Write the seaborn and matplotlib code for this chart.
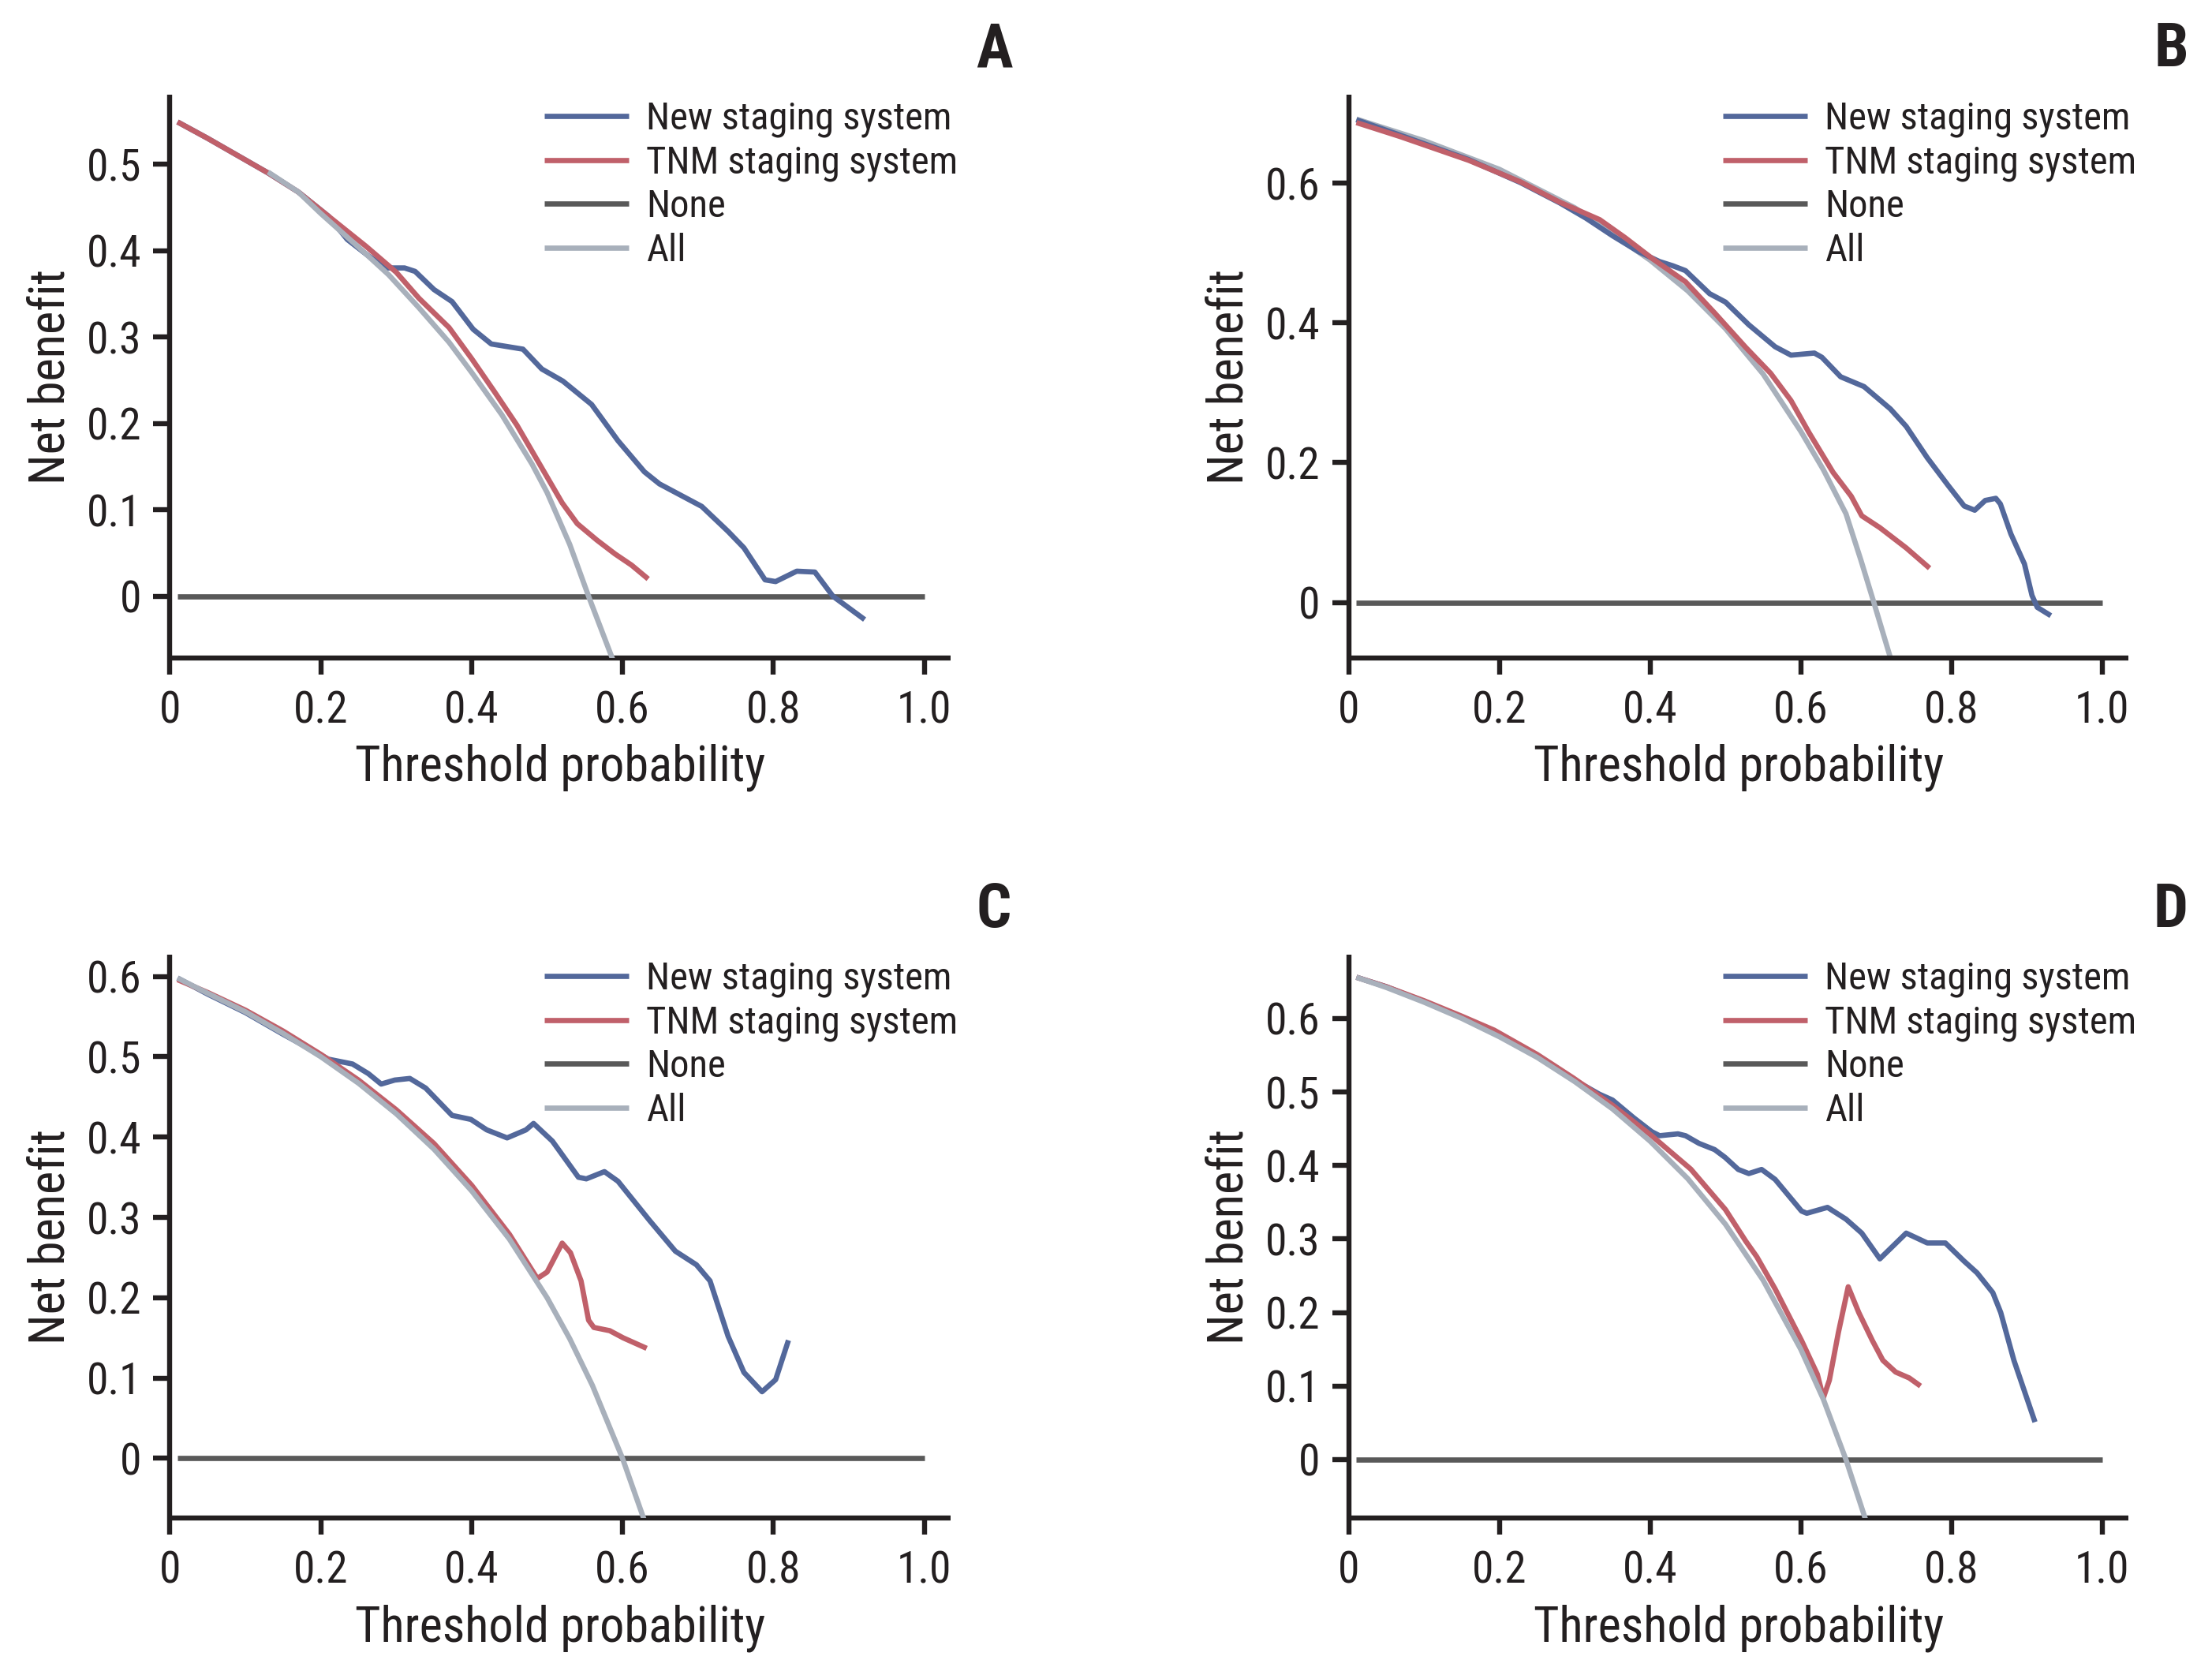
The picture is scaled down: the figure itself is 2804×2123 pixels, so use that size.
import numpy as np
import pandas as pd
import matplotlib
matplotlib.use("Agg")
import matplotlib.pyplot as plt
import seaborn as sns
from matplotlib.lines import Line2D

# ---------------- data ----------------
model_labels = ["New staging system", "TNM staging system", "None", "All"]
x_ticks = [0, 0.2, 0.4, 0.6, 0.8, 1.0]
x_tick_labels = ["0", "0.2", "0.4", "0.6", "0.8", "1.0"]
none_x = [0.01, 1.0]
none_y = [0.0, 0.0]

# Panel A
a_new_x = [0.01, 0.05, 0.10, 0.13, 0.17, 0.21, 0.235, 0.263, 0.287, 0.311, 0.325, 0.350, 0.374, 0.402,
           0.426, 0.468, 0.493, 0.521, 0.559, 0.594, 0.629, 0.649, 0.705, 0.740, 0.761, 0.789, 0.803,
           0.831, 0.855, 0.879, 0.921]
a_new_y = [0.549, 0.530, 0.505, 0.490, 0.468, 0.440, 0.413, 0.394, 0.380, 0.380, 0.376, 0.355, 0.341, 0.309,
           0.292, 0.286, 0.263, 0.249, 0.222, 0.180, 0.144, 0.130, 0.104, 0.075, 0.056, 0.019, 0.017,
           0.029, 0.028, 0.000, -0.027]
a_tnm_x = [0.01, 0.05, 0.10, 0.13, 0.17, 0.21, 0.26, 0.30, 0.33, 0.37, 0.40, 0.43, 0.46, 0.48, 0.50, 0.52,
           0.54, 0.566, 0.590, 0.612, 0.634]
a_tnm_y = [0.549, 0.530, 0.505, 0.490, 0.468, 0.440, 0.405, 0.375, 0.345, 0.311, 0.275, 0.237, 0.198, 0.168,
           0.138, 0.108, 0.084, 0.065, 0.049, 0.036, 0.020]
a_all_x = [0.13, 0.17, 0.20, 0.25, 0.29, 0.33, 0.37, 0.40, 0.44, 0.48, 0.50, 0.53, 0.555, 0.59]
a_all_y = [0.491, 0.468, 0.443, 0.404, 0.372, 0.334, 0.294, 0.259, 0.210, 0.153, 0.120, 0.060, 0.000, -0.080]
a_y_ticks = [0, 0.1, 0.2, 0.3, 0.4, 0.5]
a_y_tick_labels = ["0", "0.1", "0.2", "0.3", "0.4", "0.5"]
a_ylim = (-0.0718, 0.5806)

# Panel B
b_new_x = [0.01, 0.068, 0.159, 0.228, 0.280, 0.315, 0.35, 0.385, 0.4125, 0.43, 0.447, 0.479, 0.50, 0.531,
           0.566, 0.587, 0.618, 0.628, 0.653, 0.684, 0.719, 0.740, 0.768, 0.796, 0.817, 0.831, 0.845,
           0.859, 0.865, 0.879, 0.897, 0.907, 0.914, 0.932]
b_new_y = [0.691, 0.669, 0.634, 0.601, 0.572, 0.550, 0.525, 0.502, 0.488, 0.482, 0.475, 0.442, 0.430, 0.3975,
           0.366, 0.354, 0.357, 0.351, 0.323, 0.309, 0.277, 0.252, 0.207, 0.167, 0.138, 0.132, 0.146,
           0.149, 0.141, 0.098, 0.055, 0.010, -0.007, -0.019]
b_tnm_x = [0.01, 0.068, 0.159, 0.228, 0.280, 0.333, 0.367, 0.402, 0.447, 0.486, 0.527, 0.56, 0.587, 0.611,
           0.643, 0.667, 0.681, 0.705, 0.740, 0.771]
b_tnm_y = [0.687, 0.667, 0.633, 0.602, 0.573, 0.548, 0.522, 0.493, 0.459, 0.414, 0.365, 0.328, 0.289, 0.243,
           0.186, 0.152, 0.124, 0.107, 0.078, 0.049]
b_all_x = [0.01, 0.10, 0.20, 0.30, 0.40, 0.45, 0.50, 0.55, 0.60, 0.63, 0.66, 0.68, 0.697, 0.722]
b_all_y = [0.692, 0.661, 0.620, 0.565, 0.490, 0.446, 0.392, 0.327, 0.245, 0.190, 0.127, 0.060, 0.000, -0.090]
b_y_ticks = [0, 0.2, 0.4, 0.6]
b_y_tick_labels = ["0", "0.2", "0.4", "0.6"]
b_ylim = (-0.080, 0.727)

# Panel C
c_new_x = [0.01, 0.05, 0.10, 0.15, 0.21, 0.242, 0.263, 0.28, 0.298, 0.318, 0.339, 0.374, 0.399, 0.42, 0.447,
           0.472, 0.482, 0.507, 0.517, 0.5415, 0.552, 0.576, 0.594, 0.636, 0.670, 0.698, 0.716, 0.740,
           0.761, 0.785, 0.803, 0.820]
c_new_y = [0.598, 0.578, 0.555, 0.528, 0.497, 0.491, 0.479, 0.466, 0.471, 0.473, 0.461, 0.427, 0.422, 0.409,
           0.399, 0.409, 0.417, 0.395, 0.382, 0.350, 0.348, 0.357, 0.345, 0.296, 0.258, 0.241, 0.221,
           0.152, 0.107, 0.083, 0.098, 0.147]
c_tnm_x = [0.01, 0.05, 0.10, 0.15, 0.20, 0.25, 0.30, 0.35, 0.40, 0.45, 0.487, 0.50, 0.51, 0.52, 0.531,
           0.545, 0.555, 0.562, 0.583, 0.601, 0.632]
c_tnm_y = [0.596, 0.580, 0.558, 0.532, 0.503, 0.471, 0.434, 0.392, 0.340, 0.279, 0.224, 0.232, 0.250, 0.268,
           0.256, 0.221, 0.172, 0.163, 0.159, 0.150, 0.137]
c_all_x = [0.01, 0.05, 0.10, 0.15, 0.20, 0.25, 0.30, 0.35, 0.40, 0.45, 0.50, 0.53, 0.56, 0.60, 0.63]
c_all_y = [0.598, 0.579, 0.556, 0.529, 0.500, 0.467, 0.429, 0.385, 0.333, 0.273, 0.200, 0.149, 0.091, 0.000,
           -0.080]
c_y_ticks = [0, 0.1, 0.2, 0.3, 0.4, 0.5, 0.6]
c_y_tick_labels = ["0", "0.1", "0.2", "0.3", "0.4", "0.5", "0.6"]
c_ylim = (-0.0747, 0.627)

# Panel D
d_new_x = [0.01, 0.05, 0.10, 0.15, 0.193, 0.25, 0.298, 0.3325, 0.35, 0.378, 0.402, 0.4125, 0.437, 0.447,
           0.465, 0.4856, 0.4995, 0.517, 0.531, 0.548, 0.566, 0.601, 0.608, 0.6355, 0.66, 0.681, 0.705,
           0.740, 0.768, 0.792, 0.8167, 0.834, 0.855, 0.8655, 0.883, 0.911]
d_new_y = [0.656, 0.643, 0.623, 0.601, 0.581, 0.549, 0.517, 0.497, 0.489, 0.465, 0.446, 0.4405, 0.443, 0.4405,
           0.430, 0.4216, 0.411, 0.3946, 0.389, 0.3946, 0.381, 0.338, 0.335, 0.343, 0.327, 0.308, 0.273,
           0.308, 0.2946, 0.2946, 0.270, 0.254, 0.227, 0.200, 0.135, 0.051]
d_tnm_x = [0.01, 0.05, 0.10, 0.15, 0.193, 0.25, 0.298, 0.35, 0.402, 0.454, 0.50, 0.527, 0.5415, 0.566, 0.601,
           0.622, 0.630, 0.638, 0.650, 0.663, 0.677, 0.695, 0.709, 0.726, 0.744, 0.759]
d_tnm_y = [0.656, 0.643, 0.624, 0.603, 0.584, 0.551, 0.519, 0.482, 0.4405, 0.395, 0.340, 0.297, 0.276, 0.232,
           0.162, 0.116, 0.084, 0.108, 0.173, 0.235, 0.200, 0.162, 0.135, 0.119, 0.111, 0.100]
d_all_x = [0.01, 0.05, 0.10, 0.15, 0.20, 0.25, 0.30, 0.35, 0.40, 0.45, 0.50, 0.55, 0.60, 0.63, 0.66, 0.69]
d_all_y = [0.656, 0.642, 0.622, 0.600, 0.575, 0.547, 0.514, 0.477, 0.433, 0.382, 0.320, 0.244, 0.150, 0.082,
           0.000, -0.094]
d_y_ticks = [0, 0.1, 0.2, 0.3, 0.4, 0.5, 0.6]
d_y_tick_labels = ["0", "0.1", "0.2", "0.3", "0.4", "0.5", "0.6"]
d_ylim = (-0.080, 0.6866)

# ---------------- style ----------------
sns.set_theme(style="ticks")
NARROW = ["Liberation Sans Narrow", "Roboto Condensed", "DejaVu Sans Condensed", "Liberation Sans", "DejaVu Sans"]
plt.rcParams["font.family"] = NARROW
plt.rcParams["axes.unicode_minus"] = False

INK = "#231f20"
COL_NEW = "#53689b"
COL_TNM = "#c0606a"
COL_NONE = "#595959"
COL_ALL = "#a8b0bb"
LW = 4.8
SPINE_LW = 4.6

W, H = 2804, 2123
fig = plt.figure(figsize=(W / 100, H / 100), dpi=100)
fig.patch.set_facecolor("white")

panels = [
    dict(letter="A", pos=[0.07685, 0.6070, 0.3529, 0.3365], new=(a_new_x, a_new_y), tnm=(a_tnm_x, a_tnm_y),
         all=(a_all_x, a_all_y), yt=a_y_ticks, ytl=a_y_tick_labels, ylim=a_ylim,
         z=dict(new=2.3, tnm=2.5, all=2.7), lx=0.4494, ly=0.9604),
    dict(letter="B", pos=[0.6098, 0.6070, 0.3524, 0.3365], new=(b_new_x, b_new_y), tnm=(b_tnm_x, b_tnm_y),
         all=(b_all_x, b_all_y), yt=b_y_ticks, ytl=b_y_tick_labels, ylim=b_ylim,
         z=dict(new=2.4, tnm=2.6, all=2.2), lx=0.9814, ly=0.9604),
    dict(letter="C", pos=[0.07685, 0.0935, 0.3529, 0.3365], new=(c_new_x, c_new_y), tnm=(c_tnm_x, c_tnm_y),
         all=(c_all_x, c_all_y), yt=c_y_ticks, ytl=c_y_tick_labels, ylim=c_ylim,
         z=dict(new=2.3, tnm=2.5, all=2.7), lx=0.4494, ly=0.4465),
    dict(letter="D", pos=[0.6098, 0.0935, 0.3524, 0.3365], new=(d_new_x, d_new_y), tnm=(d_tnm_x, d_tnm_y),
         all=(d_all_x, d_all_y), yt=d_y_ticks, ytl=d_y_tick_labels, ylim=d_ylim,
         z=dict(new=2.3, tnm=2.5, all=2.7), lx=0.9814, ly=0.4465),
]

for p in panels:
    ax = fig.add_axes(p["pos"])
    ax.set_facecolor("white")
    series = [
        ("None", (none_x, none_y), COL_NONE, 2.0),
        ("New staging system", p["new"], COL_NEW, p["z"]["new"]),
        ("TNM staging system", p["tnm"], COL_TNM, p["z"]["tnm"]),
        ("All", p["all"], COL_ALL, p["z"]["all"]),
    ]
    for name, (xs, ys), col, z in series:
        df = pd.DataFrame({"Threshold probability": xs, "Net benefit": ys})
        sns.lineplot(data=df, x="Threshold probability", y="Net benefit", ax=ax, color=col,
                     linewidth=LW, sort=False, estimator=None, legend=False, zorder=z,
                     solid_capstyle="butt", solid_joinstyle="round")

    ax.set_xlim(0, 1.035)
    ax.set_ylim(*p["ylim"])
    ax.set_xticks(x_ticks)
    ax.set_xticklabels(x_tick_labels)
    ax.set_yticks(p["yt"])
    ax.set_yticklabels(p["ytl"])

    for s in ["top", "right"]:
        ax.spines[s].set_visible(False)
    for s in ["left", "bottom"]:
        ax.spines[s].set_linewidth(SPINE_LW)
        ax.spines[s].set_color(INK)
        ax.spines[s].set_capstyle("butt")
    ax.tick_params(axis="both", direction="out", length=15, width=SPINE_LW, color=INK,
                   labelsize=40, labelcolor=INK)
    ax.tick_params(axis="x", pad=14)
    ax.tick_params(axis="y", pad=11)
    for t in ax.get_xticklabels() + ax.get_yticklabels():
        t.set_family(NARROW)

    ax.set_xlabel("Threshold probability", fontsize=45, family=NARROW, color=INK, labelpad=11)
    ax.set_ylabel("Net benefit", fontsize=45, family=NARROW, color=INK, labelpad=11)

    cols = [COL_NEW, COL_TNM, COL_NONE, COL_ALL]
    handles = [Line2D([], [], color=c, lw=LW, solid_capstyle="butt") for c in cols]
    leg = ax.legend(handles, model_labels, loc="upper left", bbox_to_anchor=(0.48, 0.989),
                    frameon=False, fontsize=35, handlelength=2.2, handletextpad=0.45,
                    labelspacing=0.19, borderpad=0.0, borderaxespad=0.0, labelcolor=INK)
    for t in leg.get_texts():
        t.set_family(NARROW)

    fig.text(p["lx"], p["ly"], p["letter"], fontsize=56, fontweight="bold", ha="center",
             va="baseline", color=INK, family=NARROW)

fig.savefig("out.png", dpi=100, facecolor="white")
